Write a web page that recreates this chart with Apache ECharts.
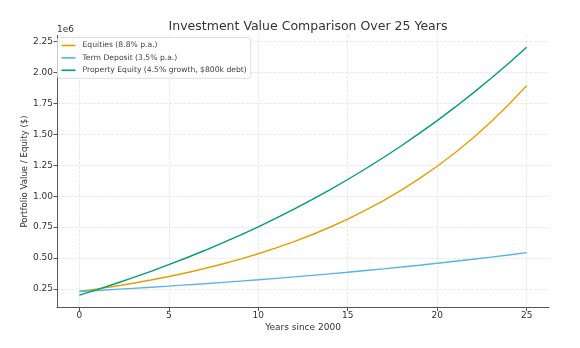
<!DOCTYPE html>
<html>
<head>
<meta charset="utf-8">
<script src="https://cdn.jsdelivr.net/npm/echarts@6/dist/echarts.min.js"></script>
<style>
  html, body { margin: 0; padding: 0; background: #fff; }
  #chart { width: 580px; height: 348px; }
</style>
</head>
<body>
<div id="chart"></div>
<script>
// Years since 2000
const years = [0, 1, 2, 3, 4, 5, 6, 7, 8, 9, 10, 11, 12, 13, 14, 15, 16, 17, 18, 19, 20, 21, 22, 23, 24, 25];

// Portfolio / equity values in dollars
const equities = [230000, 250240, 272261, 296220, 322287, 350649, 381505, 415078, 451604, 491345,
  534585, 581627, 632810, 688497, 749085, 815005, 886725, 964756, 1049655, 1142025,
  1242527, 1351865, 1470829, 1600262, 1741085, 1894307];
const termDeposit = [230000, 238050, 246382, 255005, 263930, 273168, 282729, 292624, 302866, 313466,
  324438, 335793, 347546, 359710, 372300, 385330, 398817, 412775, 427222, 442175,
  457651, 473669, 490248, 507406, 525165, 543546];
const propertyEquity = [200000, 245000, 292025, 341166, 392519, 446182, 502260, 560862, 622101, 686095,
  752969, 822853, 895881, 972196, 1051945, 1135282, 1222370, 1313377, 1408479, 1507860,
  1611714, 1720241, 1833652, 1952166, 2076014, 2205434];

const seriesNames = ['Equities (8.8% p.a.)', 'Term Deposit (3.5% p.a.)', 'Property Equity (4.5% growth, $800k debt)'];
const xTicks = [0, 5, 10, 15, 20, 25];
const yTicks = [250000, 500000, 750000, 1000000, 1250000, 1500000, 1750000, 2000000, 2250000];

const pair = (vals) => years.map((y, i) => [y, vals[i]]);
const FONT = 'DejaVu Sans';
const gridLine = { show: true, lineStyle: { color: '#e3e3e3', width: 0.8, type: [3, 1.5] } };

const chart = echarts.init(document.getElementById('chart'), null, { renderer: 'canvas' });
chart.setOption({
  animation: false,
  backgroundColor: '#fff',
  textStyle: { fontFamily: FONT },
  title: {
    text: 'Investment Value Comparison Over 25 Years',
    left: 303, top: 15, textAlign: 'center',
    textStyle: { fontFamily: FONT, fontSize: 12.5, fontWeight: 'normal', color: '#333' }
  },
  grid: { left: 57, right: 31, top: 35.5, bottom: 40.5, containLabel: false },
  legend: {
    orient: 'vertical', left: 57.5, top: 37.5,
    data: seriesNames,
    icon: 'rect', itemWidth: 14, itemHeight: 1.6, itemGap: 4.4,
    padding: [4, 4, 4, 4],
    backgroundColor: 'rgba(255,255,255,0.85)',
    borderColor: '#d8d8d8', borderWidth: 0.8, borderRadius: 2,
    textStyle: { fontFamily: FONT, fontSize: 7.65, color: '#444', padding: [0, 0, 0, 2] }
  },
  xAxis: {
    type: 'value', min: -1.25, max: 26.25,
    name: 'Years since 2000', nameLocation: 'middle', nameGap: 16,
    nameMoveOverlap: false,
    nameTextStyle: { fontFamily: FONT, fontSize: 9, color: '#333' },
    axisLine: { show: true, onZero: false, lineStyle: { color: '#555', width: 1 } },
    axisTick: { show: true, length: 3.5, customValues: xTicks, lineStyle: { color: '#555' } },
    axisLabel: { customValues: xTicks, fontFamily: FONT, fontSize: 9, color: '#333', margin: 4 },
    splitLine: gridLine
  },
  yAxis: {
    type: 'value', min: 100000, max: 2300000,
    name: 'Portfolio Value / Equity ($)', nameLocation: 'middle', nameGap: 28,
    nameMoveOverlap: false,
    nameTextStyle: { fontFamily: FONT, fontSize: 8.6, color: '#333' },
    axisLine: { show: true, onZero: false, lineStyle: { color: '#555', width: 1 } },
    axisTick: { show: true, length: 3.5, customValues: yTicks, lineStyle: { color: '#555' } },
    axisLabel: {
      customValues: yTicks, fontFamily: FONT, fontSize: 9, color: '#333', margin: 4,
      formatter: (v) => (v / 1e6).toFixed(2)
    },
    splitLine: gridLine
  },
  graphic: [{
    type: 'text', left: 57, top: 25.5,
    style: { text: '1e6', fontFamily: FONT, fontSize: 9, fill: '#333' }
  }],
  series: [
    { name: seriesNames[0], type: 'line', data: pair(equities), showSymbol: false,
      lineStyle: { color: '#E69F00', width: 1.4 }, itemStyle: { color: '#E69F00' } },
    { name: seriesNames[1], type: 'line', data: pair(termDeposit), showSymbol: false,
      lineStyle: { color: '#56B4E9', width: 1.4 }, itemStyle: { color: '#56B4E9' } },
    { name: seriesNames[2], type: 'line', data: pair(propertyEquity), showSymbol: false,
      lineStyle: { color: '#009E73', width: 1.4 }, itemStyle: { color: '#009E73' } }
  ]
});
</script>
</body>
</html>
